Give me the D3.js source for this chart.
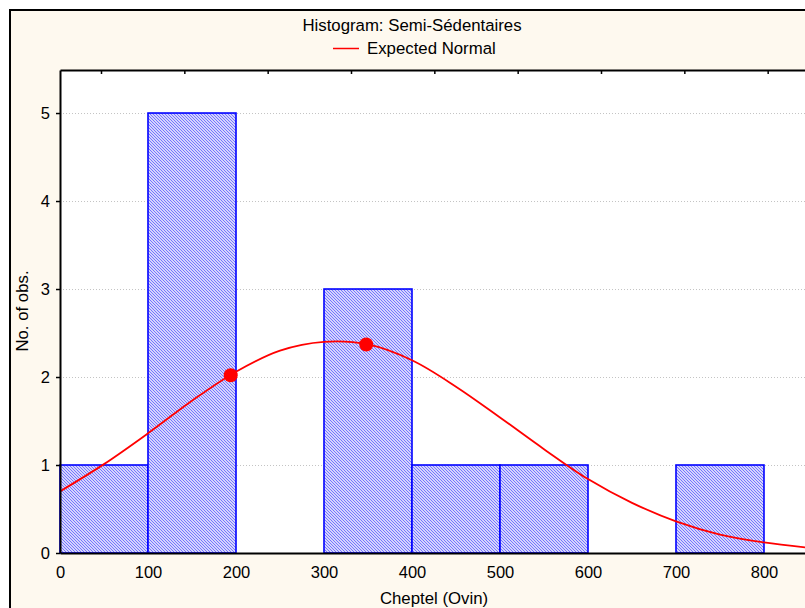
<!DOCTYPE html>
<html>
<head>
<meta charset="utf-8">
<script src="https://cdn.jsdelivr.net/npm/d3@7"></script>
<style>
  body { margin: 0; background: #ffffff; }
  svg { display: block; }
  text { font-family: Arial, "Liberation Sans", sans-serif; fill: #000; }
</style>
</head>
<body>
<svg id="chart" width="805" height="608"></svg>
<script>
// Histogram bins (Cheptel, ovin) and observation counts
const binStarts = [0, 100, 200, 300, 400, 500, 600, 700];
const binWidth = 100;
const counts = [1, 5, 0, 3, 1, 1, 0, 1];

// Axis ticks
const xTicks = [0, 100, 200, 300, 400, 500, 600, 700, 800];
const yTicks = [0, 1, 2, 3, 4, 5];
const topTicks = [0, 1, 2, 3, 4, 5, 6, 7, 8];

// Expected normal curve, sampled along x
const normalX = [0, 50, 100, 150, 200, 250, 300, 350, 400, 450, 500, 550, 600, 650, 700, 750, 800, 850];
const normalY = [0.70, 1.01, 1.36, 1.73, 2.06, 2.30, 2.40, 2.37, 2.19, 1.89, 1.54, 1.18, 0.84, 0.57, 0.36, 0.21, 0.12, 0.06];

// Highlighted points on the curve
const markerX = [194, 348];
const markerY = [2.02, 2.37];

const titleText = "Histogram: Semi-Sédentaires";
const legendText = "Expected Normal";
const xTitle = "Cheptel (Ovin)";
const yTitle = "No. of obs.";

const svg = d3.select("#chart");
const plot = { left: 60, top: 70, right: 805, bottom: 553 };

const x = d3.scaleLinear().domain([0, 846.6]).range([plot.left, plot.right]);
const y = d3.scaleLinear().domain([0, 5.489]).range([plot.bottom, plot.top]);
const xTop = d3.scaleLinear().domain([-0.492, 8.448]).range([plot.left, plot.right]);

// Hatch fill for the bars: fine diagonal lines on a pale ground
const defs = svg.append("defs");
const pat = defs.append("pattern")
  .attr("id", "hatch")
  .attr("patternUnits", "userSpaceOnUse")
  .attr("width", 3).attr("height", 3);
pat.append("rect").attr("width", 3).attr("height", 3).attr("fill", "#d4d4fc");
pat.append("path")
  .attr("d", "M-1,-1L4,4M-1,2L1,4M2,-1L4,1")
  .attr("stroke", "#6a6aff").attr("stroke-width", 0.9).attr("fill", "none");

// Outer panel
svg.append("rect")
  .attr("x", 10).attr("y", 10).attr("width", 830).attr("height", 630)
  .attr("fill", "#fef9ef").attr("stroke", "#000").attr("stroke-width", 2);

// Plot background
svg.append("rect")
  .attr("x", plot.left).attr("y", plot.top)
  .attr("width", plot.right - plot.left + 5).attr("height", plot.bottom - plot.top)
  .attr("fill", "#ffffff");

// Title and legend
svg.append("text").attr("x", 412).attr("y", 31).attr("text-anchor", "middle")
  .attr("font-size", 16.8).text(titleText);
svg.append("line").attr("x1", 333).attr("x2", 359).attr("y1", 48.5).attr("y2", 48.5)
  .attr("stroke", "#ff0000").attr("stroke-width", 1.5);
svg.append("text").attr("x", 367).attr("y", 54).attr("font-size", 16.8).text(legendText);

// Horizontal grid
svg.append("g").selectAll("line")
  .data(yTicks.filter(d => d > 0))
  .join("line")
  .attr("x1", plot.left).attr("x2", plot.right + 5)
  .attr("y1", d => y(d) + 0.5).attr("y2", d => y(d) + 0.5)
  .attr("stroke", "#c4c4c4").attr("stroke-width", 1)
  .attr("stroke-dasharray", "1,2");

// Bars
const bins = binStarts.map((s, i) => ({ x0: s, x1: s + binWidth, n: counts[i] }));
svg.append("g").selectAll("rect")
  .data(bins.filter(d => d.n > 0))
  .join("rect")
  .attr("x", d => x(d.x0))
  .attr("y", d => y(d.n))
  .attr("width", d => x(d.x1) - x(d.x0))
  .attr("height", d => y(0) - y(d.n))
  .attr("fill", "url(#hatch)")
  .attr("stroke", "#0000ff").attr("stroke-width", 1.6);

// Expected normal curve
const curvePts = normalX.map((v, i) => [v, normalY[i]]);
svg.append("path")
  .datum(curvePts)
  .attr("fill", "none").attr("stroke", "#ff0000").attr("stroke-width", 1.8)
  .attr("d", d3.line().x(d => x(d[0])).y(d => y(d[1])).curve(d3.curveCatmullRom));

svg.append("g").selectAll("circle")
  .data(markerX.map((v, i) => [v, markerY[i]]))
  .join("circle")
  .attr("cx", d => x(d[0])).attr("cy", d => y(d[1])).attr("r", 7)
  .attr("fill", "#ff0000");

// Axes
const axisStyle = g => {
  g.selectAll(".domain").attr("stroke", "#000").attr("stroke-width", 2);
  g.selectAll(".tick line").attr("stroke", "#000").attr("stroke-width", 1.5);
  g.selectAll("text").attr("font-size", 16.5).attr("font-family", "Arial, 'Liberation Sans', sans-serif").attr("fill", "#000");
};

svg.append("g")
  .attr("transform", `translate(${plot.left},0)`)
  .call(d3.axisLeft(y).tickValues(yTicks).tickSize(4).tickSizeOuter(0).tickPadding(6).tickFormat(d3.format("d")))
  .call(axisStyle);

svg.append("g")
  .attr("transform", `translate(0,${plot.bottom})`)
  .call(d3.axisBottom(x).tickValues(xTicks).tickSize(0).tickSizeOuter(0).tickPadding(13).tickFormat(d3.format("d")))
  .call(axisStyle);

svg.append("g")
  .attr("transform", `translate(0,${plot.top})`)
  .call(d3.axisTop(xTop).tickValues(topTicks).tickSize(-4).tickSizeOuter(0).tickFormat(""))
  .call(axisStyle);

// Axis titles
svg.append("text").attr("x", 434).attr("y", 604).attr("text-anchor", "middle")
  .attr("font-size", 16.8).text(xTitle);
svg.append("text")
  .attr("transform", "translate(28,311) rotate(-90)")
  .attr("text-anchor", "middle").attr("font-size", 16.8).text(yTitle);
</script>
</body>
</html>
